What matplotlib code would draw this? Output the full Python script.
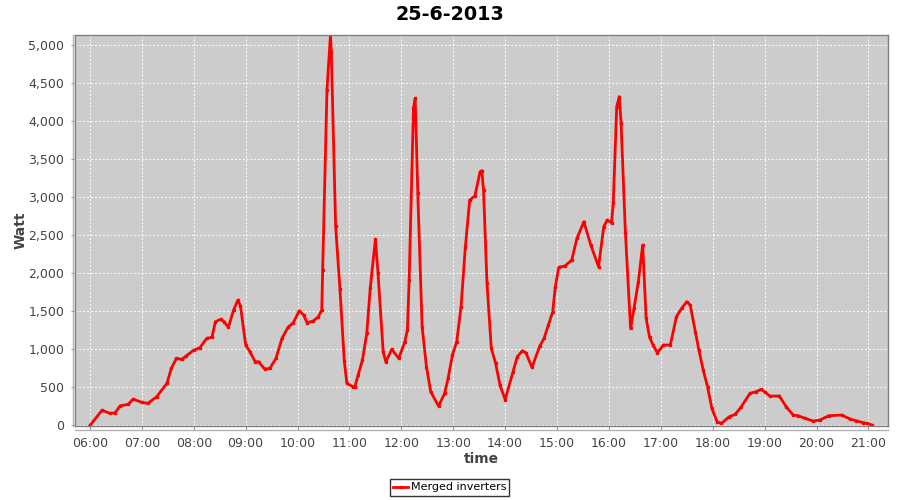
import matplotlib
matplotlib.use("Agg")
import matplotlib.pyplot as plt
import matplotlib.dates as mdates
from matplotlib.lines import Line2D
from matplotlib.ticker import FuncFormatter, MultipleLocator
import pandas as pd

day = "2013-06-25"
title = "25-6-2013"
series_name = "Merged inverters"
x_label = "time"
y_label = "Watt"

# readings of the merged inverter output (time, watt)
times = [
    "06:00", "06:14", "06:23", "06:29", "06:35", "06:44", "06:50", "07:00", "07:07", "07:17",
    "07:29", "07:34", "07:40", "07:46", "07:51", "08:00", "08:07", "08:15", "08:21", "08:25",
    "08:31", "08:35", "08:40", "08:46", "08:51", "08:54", "09:00", "09:05", "09:11", "09:15",
    "09:22", "09:28", "09:35", "09:42", "09:49", "09:55", "10:02", "10:07", "10:11", "10:18",
    "10:24", "10:28", "10:29", "10:34", "10:38", "10:39", "10:44", "10:49", "10:54", "10:57",
    "11:04", "11:06", "11:10", "11:15", "11:20", "11:24", "11:30", "11:33", "11:39", "11:42",
    "11:49", "11:57", "12:04", "12:07", "12:09", "12:14", "12:16", "12:19", "12:24", "12:29",
    "12:34", "12:43", "12:50", "12:54", "12:59", "13:04", "13:09", "13:14", "13:19", "13:25",
    "13:31", "13:33", "13:35", "13:39", "13:44", "13:49", "13:54", "14:00", "14:09", "14:14",
    "14:20", "14:24", "14:31", "14:40", "14:45", "14:50", "14:55", "14:58", "15:02", "15:09",
    "15:17", "15:23", "15:31", "15:39", "15:48", "15:54", "15:58", "16:03", "16:05", "16:09",
    "16:12", "16:14", "16:19", "16:25", "16:29", "16:34", "16:39", "16:43", "16:47", "16:51",
    "16:56", "17:03", "17:11", "17:18", "17:24", "17:30", "17:34", "17:40", "17:44", "17:49",
    "17:54", "17:59", "18:05", "18:10", "18:19", "18:26", "18:33", "18:43", "18:50", "18:56",
    "19:00", "19:06", "19:17", "19:25", "19:33", "19:39", "19:47", "19:56", "20:04", "20:14",
    "20:29", "20:39", "20:46", "20:54", "20:58", "21:04",
]
watts = [
    0, 200, 158, 165, 258, 276, 346, 302, 290, 376,
    553, 750, 882, 868, 911, 990, 1021, 1145, 1158, 1364,
    1395, 1364, 1290, 1517, 1649, 1570, 1057, 968, 837, 837,
    741, 750, 882, 1145, 1290, 1350, 1508, 1451, 1350, 1372,
    1429, 1517, 2043, 4418, 5130, 4916, 2622, 1790, 850, 553,
    510, 500, 662, 859, 1210, 1803, 2450, 2000, 968, 837,
    1000, 882, 1100, 1254, 1912, 4171, 4303, 3053, 1297, 771,
    442, 254, 421, 618, 925, 1100, 1561, 2350, 2964, 3017,
    3337, 3350, 3096, 1868, 1013, 816, 530, 340, 705, 903,
    982, 955, 763, 1043, 1145, 1320, 1495, 1824, 2079, 2096,
    2175, 2461, 2679, 2372, 2087, 2613, 2701, 2666, 2921, 4192,
    4324, 3982, 2547, 1276, 1539, 1889, 2372, 1408, 1158, 1057,
    955, 1057, 1057, 1429, 1539, 1627, 1583, 1232, 991, 728,
    508, 224, 48, 26, 113, 145, 245, 421, 442, 474,
    442, 386, 386, 245, 136, 127, 92, 57, 70, 127,
    136, 83, 61, 35, 26, 5,
]

x = pd.to_datetime([day + " " + t for t in times])

fig = plt.figure(figsize=(9, 5), dpi=100)
ax = fig.add_axes([75.3 / 900, 74 / 500, 813 / 900, 391 / 500])
ax.set_facecolor("#cccccc")

ax.plot(x, watts, color="#ff0000", lw=2, marker="s", markersize=1.4,
        label=series_name, solid_joinstyle="round")

ax.set_xlim(pd.Timestamp(day + " 05:43"), pd.Timestamp(day + " 21:23"))
ax.set_ylim(-8, 5135)

ax.xaxis.set_major_locator(mdates.HourLocator())
ax.xaxis.set_major_formatter(mdates.DateFormatter("%H:%M"))
ax.yaxis.set_major_locator(MultipleLocator(500))
ax.yaxis.set_major_formatter(FuncFormatter(lambda v, p: f"{int(v):,}"))

ax.grid(True, color="white", linestyle=(0, (2, 2)), linewidth=0.7)
ax.set_axisbelow(True)

for s in ax.spines.values():
    s.set_color("#808080")
    s.set_linewidth(1)

ax.tick_params(axis="both", colors="#999999", length=3, width=0.8,
               labelcolor="#444444", labelsize=9, pad=5)

# axis labels and title placed like the original
fig.text(481.8 / 900, 1 - 459 / 500, x_label, ha="center", va="center",
         fontsize=10, fontweight="bold", color="#444444")
fig.text(20.5 / 900, 1 - 230 / 500, y_label, ha="center", va="center", rotation=90,
         fontsize=10, fontweight="bold", color="#444444")
fig.text(0.5, 1 - 14 / 500, title, ha="center", va="center", fontsize=13.8, fontweight="bold")

# separate axis lines just outside the plot outline
fig.add_artist(Line2D([72.5 / 900, 72.5 / 900], [74 / 500, 465 / 500], color="#b0b0b0", lw=1))
fig.add_artist(Line2D([75.3 / 900, 888.3 / 900], [70.5 / 500, 70.5 / 500], color="#b0b0b0", lw=1))

leg = fig.legend(loc="center", bbox_to_anchor=(449.5 / 900, 1 - 487.5 / 500), fontsize=8,
                 frameon=True, fancybox=False, handlelength=1.4, handletextpad=0.2,
                 borderpad=0.3, borderaxespad=0)
leg.get_frame().set_edgecolor("black")
leg.get_frame().set_linewidth(1)

fig.savefig("out.png", dpi=100)
